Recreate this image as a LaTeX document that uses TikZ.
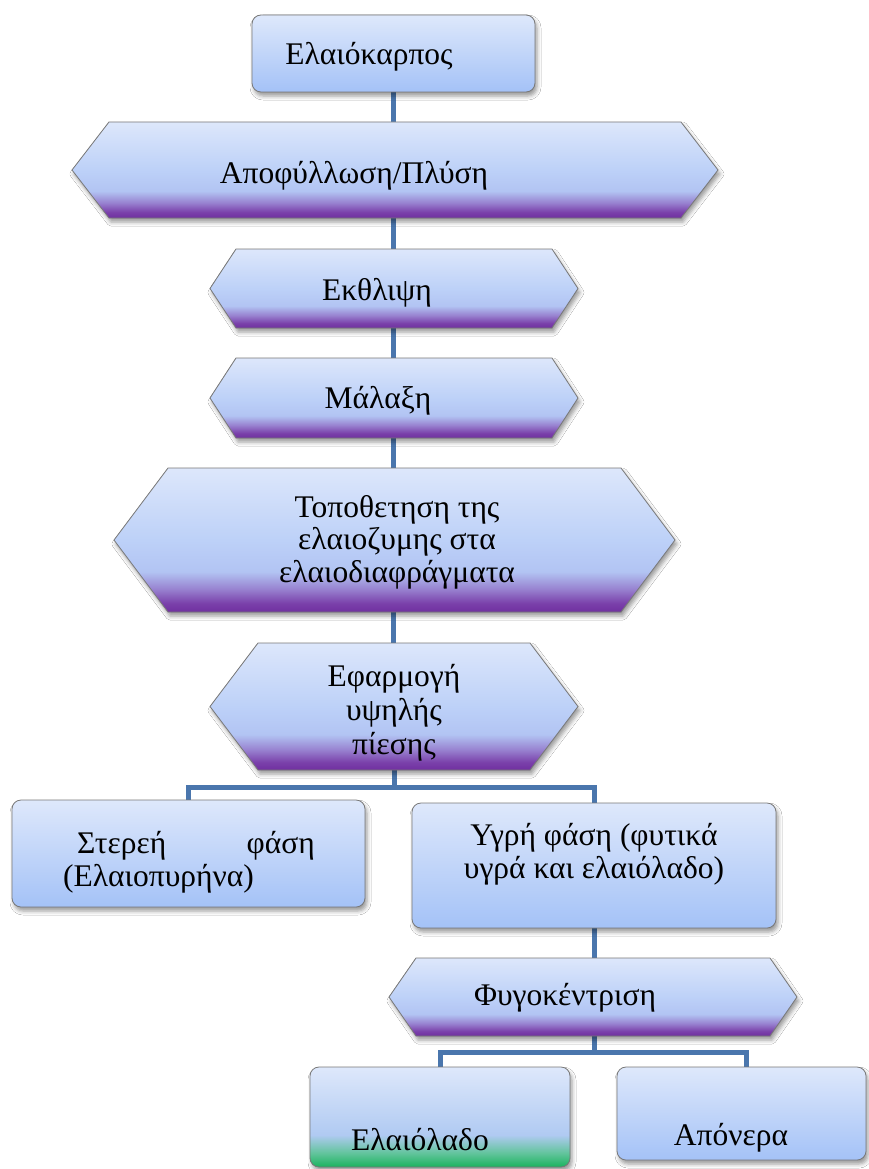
\documentclass[tikz,border=0pt]{standalone}
\usepackage{fontspec}
\setmainfont{Liberation Serif}
\usetikzlibrary{shadows.blur,calc}
\pgfdeclarelayer{bg}
\pgfsetlayers{bg,main}
\definecolor{ht}{RGB}{221,231,251}
\definecolor{hb}{RGB}{189,209,248}
\definecolor{hl}{RGB}{178,196,243}
\definecolor{hm}{RGB}{152,130,208}
\definecolor{hd}{RGB}{122,64,170}
\definecolor{hp}{RGB}{112,48,160}
\definecolor{bt}{RGB}{222,232,251}
\definecolor{bb}{RGB}{164,194,247}
\definecolor{gb}{RGB}{27,179,94}
\definecolor{gm}{RGB}{98,196,156}
\definecolor{gl}{RGB}{176,202,242}
\definecolor{conncol}{RGB}{74,118,173}
\definecolor{edgecol}{RGB}{120,120,120}
\pgfdeclareverticalshading{hexsh}{100bp}{color(0bp)=(hp); color(25bp)=(hp); color(28bp)=(hd); color(33bp)=(hm); color(39bp)=(hl); color(50bp)=(hb); color(75bp)=(ht); color(100bp)=(ht)}
\pgfdeclareverticalshading{boxsh}{100bp}{color(0bp)=(bb); color(25bp)=(bb); color(75bp)=(bt); color(100bp)=(bt)}
\pgfdeclareverticalshading{greensh}{100bp}{color(0bp)=(gb); color(25bp)=(gb); color(32bp)=(gm); color(41bp)=(gl); color(75bp)=(bt); color(100bp)=(bt)}
\tikzset{
  shadowsty/.style={blur shadow={shadow xshift=2pt,shadow yshift=-4pt,shadow blur radius=4pt,shadow opacity=40}},
  hexsty/.style={draw=edgecol,line width=0.8pt,shading=hexsh,shadowsty},
  boxsty/.style={draw=edgecol,line width=0.8pt,rounded corners=9pt,shading=boxsh,shadowsty,inner sep=0},
  greenbox/.style={boxsty,shading=greensh},
  anchorbox/.style={inner sep=0,draw=none},
  txt/.style={font=\fontsize{31.5}{35}\selectfont,inner sep=0},
  conn/.style={draw=conncol,line width=5pt}
}
% name, x1, x2, y1, y2, depth
\newcommand\hexnode[6]{%
  \path[hexsty] (#2,{(#4+#5)/2}) -- (#2+#6,#4) -- (#3-#6,#4) -- (#3,{(#4+#5)/2}) -- (#3-#6,#5) -- (#2+#6,#5) -- cycle;
  \node[anchorbox,minimum width={#3-#2},minimum height={#5-#4}] (#1) at ({(#2+#3)/2},{(#4+#5)/2}) {};}
\begin{document}
\begin{tikzpicture}[x=1pt,y=-1pt]
\useasboundingbox (0,0) rectangle (869,1169);

\node[boxsty,minimum width=283,minimum height=77] (b1) at (393.5,53.5) {};
\node[txt,anchor=base] (t1) at (369,65) {Ελαιόκαρπος};

\hexnode{h2}{72}{718}{122}{218}{37}
\node[txt,anchor=base] (t2) at (354,183) {Αποφύλλωση/Πλύση};

\hexnode{h3}{210}{578}{249}{328}{26}
\node[txt,anchor=base] (t3) at (377,300) {Εκθλιψη};

\hexnode{h4}{210}{578}{358}{438}{26}
\node[txt,anchor=base] (t4) at (378,408) {Μάλαξη};

\hexnode{h5}{114}{675}{468}{612}{54}
\node[txt,anchor=base,align=center,font=\fontsize{31.5}{32.5}\selectfont] (t5) at (397,582) {Τοποθετηση της\\ελαιοζυμης στα\\ελαιοδιαφράγματα};

\hexnode{h6}{210}{578}{643}{770}{48}
\node[txt,anchor=base,align=center,font=\fontsize{31.5}{34}\selectfont] (t6) at (394,754) {Εφαρμογή\\υψηλής\\πίεσης};

\node[boxsty,minimum width=353,minimum height=107] (bl) at (188.5,853.5) {};
\node[txt,anchor=base west] (t7a) at (77,853) {Στερεή};
\node[txt,anchor=base east] (t7b) at (315,853) {φάση};
\node[txt,anchor=base west] (t7c) at (63,886) {(Ελαιοπυρήνα)};

\node[boxsty,minimum width=364,minimum height=125] (br) at (594,865.5) {};
\node[txt,anchor=base,align=center,font=\fontsize{31.5}{33}\selectfont] (t8) at (594,878) {Υγρή φάση (φυτικά\\υγρά και ελαιόλαδο)};

\hexnode{h7}{389}{797}{958}{1036}{27}
\node[txt,anchor=base] (t9) at (565,1005) {Φυγοκέντριση};

\node[greenbox,minimum width=260,minimum height=100] (be) at (440,1117) {};
\node[txt,anchor=base] (t10) at (420,1150) {Ελαιόλαδο};

\node[boxsty,minimum width=249,minimum height=93] (ba) at (741.5,1113.5) {};
\node[txt,anchor=base] (t11) at (731,1145) {Απόνερα};

\coordinate (j1) at (394,787);
\coordinate (j2) at (594,1052);
\begin{pgfonlayer}{bg}
\fill[white] (0,0) rectangle (869,1169);
\draw[conn] (b1.south) -- (b1.south |- h2.north);
\draw[conn] (b1.south |- h2.south) -- (b1.south |- h3.north);
\draw[conn] (b1.south |- h3.south) -- (b1.south |- h4.north);
\draw[conn] (b1.south |- h4.south) -- (b1.south |- h5.north);
\draw[conn] (b1.south |- h5.south) -- (b1.south |- h6.north);
\draw[conn] (h6.south) -- (j1) -| (bl.north);
\draw[conn] (j1) -| (br.north);
\draw[conn] (br.south) -- (br.south |- h7.north);
\draw[conn] (h7.south -| br.south) -- (j2) -| (be.north);
\draw[conn] (j2) -| ([xshift=5pt]ba.north);
\end{pgfonlayer}
\end{tikzpicture}
\end{document}
